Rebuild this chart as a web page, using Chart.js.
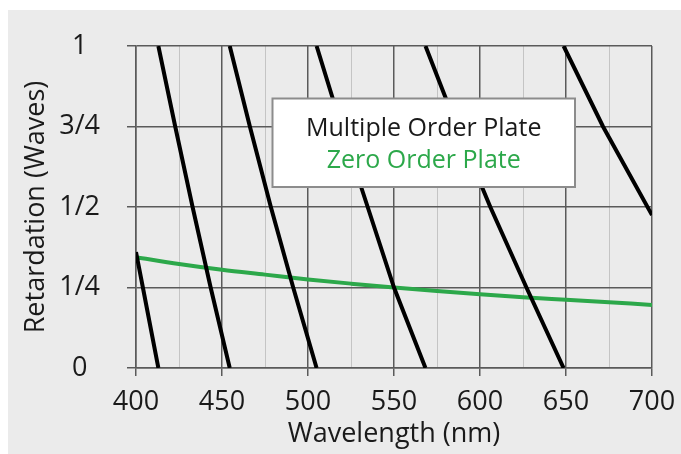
<!DOCTYPE html>
<html>
<head>
<meta charset="utf-8">
<script src="https://cdn.jsdelivr.net/npm/chart.js@4/dist/chart.umd.min.js"></script>
<style>
  html, body { margin: 0; padding: 0; background: #fff; }
  #wrap { position: absolute; left: 8px; top: 10px; width: 673px; height: 444px; background: #ebebeb; }
</style>
</head>
<body>
<div id="wrap"><canvas id="chart"></canvas></div>
<script>
// tick labels
const yTickLabels = ['0', '1/4', '1/2', '3/4', '1'];

// multiple order plate: retardation wraps every wave, null breaks the line
const multiOrderNm    = [400, 404, 413, null, 413, 422.8, 432.9, 443.4, 454.5, null, 454.5, 466.2, 478.4, 491.4, 505, null, 505, 519.4, 534.7, 550, 568.3, null, 568.3, 586.5, 606, 627, 648.6, null, 648.6, 671.5, 700];
const multiOrderWaves = [0.36, 0.25, 0, null, 1, 0.75, 0.5, 0.25, 0, null, 1, 0.75, 0.5, 0.25, 0, null, 1, 0.75, 0.5, 0.25, 0, null, 1, 0.75, 0.5, 0.25, 0, null, 1, 0.75, 0.475];

// zero order plate
const zeroOrderNm    = [400, 425, 450, 475, 500, 525, 550, 575, 600, 625, 650, 675, 700];
const zeroOrderWaves = [0.344, 0.323, 0.305, 0.29, 0.275, 0.262, 0.25, 0.239, 0.229, 0.22, 0.212, 0.204, 0.196];

const seriesNames = ['Multiple Order Plate', 'Zero Order Plate'];
const ink = '#1a1a1a';
const green = '#2ca84a';
const majorGrid = '#5a5a5a';
const minorGrid = '#c4c4c4';

Chart.defaults.font.family = "'Open Sans', sans-serif";
Chart.defaults.font.size = 27;
Chart.defaults.color = ink;

// framed legend sitting inside the plot
const legendBox = {
  id: 'legendBox',
  afterDatasetsDraw(chart) {
    const ctx = chart.ctx;
    const a = chart.chartArea;
    const bx = a.left + 136.5, by = a.top + 52.5, bw = 302.5, bh = 88.5;
    ctx.save();
    ctx.fillStyle = '#fff';
    ctx.fillRect(bx, by, bw, bh);
    ctx.strokeStyle = '#8c8c8c';
    ctx.lineWidth = 2;
    ctx.strokeRect(bx, by, bw, bh);
    ctx.font = "25px 'Open Sans', sans-serif";
    ctx.textAlign = 'center';
    ctx.textBaseline = 'alphabetic';
    chart.data.datasets.forEach((ds, i) => {
      ctx.fillStyle = i === 0 ? ink : ds.borderColor;
      ctx.fillText(ds.label, bx + bw / 2, by + 37.2 + i * 32);
    });
    ctx.restore();
  }
};

new Chart(document.getElementById('chart'), {
  type: 'line',
  data: {
    datasets: [
      {
        label: seriesNames[0],
        data: multiOrderNm.map((x, i) => ({ x: x, y: multiOrderWaves[i] })),
        borderColor: '#000',
        borderWidth: 4,
        pointRadius: 0,
        spanGaps: false,
        tension: 0
      },
      {
        label: seriesNames[1],
        data: zeroOrderNm.map((x, i) => ({ x: x, y: zeroOrderWaves[i] })),
        borderColor: green,
        borderWidth: 4,
        pointRadius: 0,
        cubicInterpolationMode: 'monotone'
      }
    ]
  },
  options: {
    responsive: true,
    maintainAspectRatio: false,
    animation: false,
    devicePixelRatio: 1,
    layout: { padding: { left: 0, top: 36, right: 29, bottom: 0 } },
    plugins: {
      legend: { display: false },
      tooltip: { enabled: false }
    },
    scales: {
      x: {
        type: 'linear',
        min: 400,
        max: 700,
        afterFit: s => { s.height = 86; s.paddingLeft = 0; s.paddingRight = 0; },
        ticks: {
          stepSize: 25,
          autoSkip: false,
          maxRotation: 0,
          padding: 10,
          callback: v => (v % 50 === 0 ? String(v) : '')
        },
        grid: {
          color: c => (c.tick && c.tick.value % 50 === 0 ? majorGrid : minorGrid),
          lineWidth: c => (c.tick && c.tick.value % 50 === 0 ? 1.5 : 1),
          tickColor: c => (c.tick && c.tick.value % 50 === 0 ? majorGrid : 'transparent'),
          tickLength: 8
        },
        border: { color: majorGrid, width: 1.5 },
        title: {
          display: true,
          text: 'Wavelength (nm)',
          padding: { top: 0, bottom: 3 }
        }
      },
      y: {
        min: 0,
        max: 1,
        afterFit: s => { s.width = 128; s.paddingTop = 0; s.paddingBottom = 0; },
        ticks: {
          stepSize: 0.25,
          crossAlign: 'center',
          padding: 27,
          callback: v => yTickLabels[Math.round(v * 4)]
        },
        grid: {
          color: majorGrid,
          lineWidth: 1.5,
          tickLength: 9
        },
        border: { color: majorGrid, width: 1.5 },
        title: {
          display: true,
          text: 'Retardation (Waves)',
          padding: { top: 12, bottom: 0 }
        }
      }
    }
  },
  plugins: [legendBox]
});
</script>
</body>
</html>
